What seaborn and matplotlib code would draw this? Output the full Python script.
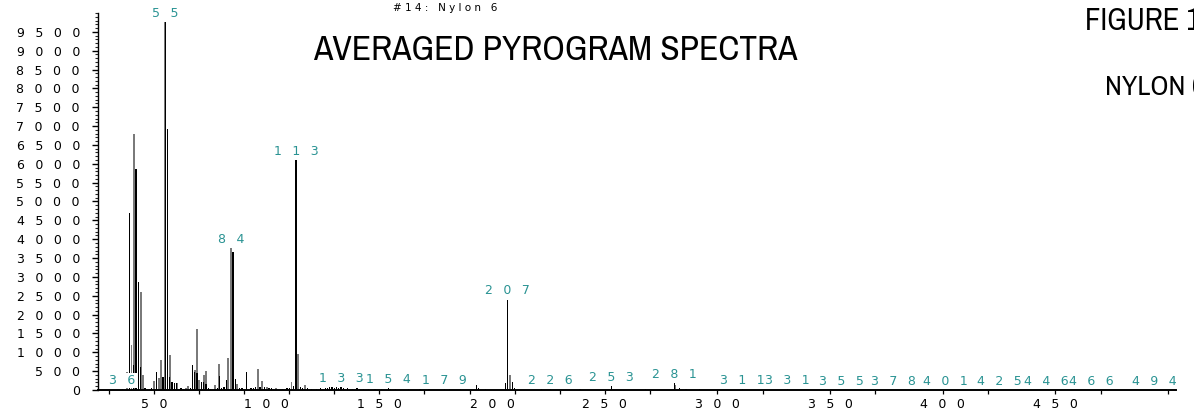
import numpy as np
import pandas as pd
import matplotlib
matplotlib.use("Agg")
import matplotlib.pyplot as plt
import seaborn as sns
from matplotlib import font_manager as fm
from matplotlib.ticker import MultipleLocator, FixedLocator

# ---------------- data ----------------
gray_mz = [38, 40, 41, 44, 45, 50, 52, 53, 54, 55, 57, 60, 64, 65, 68, 69, 70, 72, 73,
           77, 79, 83, 84, 87, 95, 96, 98, 100, 104, 111, 114, 117, 208, 281]
gray_int = [470, 1200, 6800, 2600, 390, 240, 320, 800, 350, 9750, 925, 190, 60, 100, 540,
            1630, 260, 395, 510, 140, 700, 860, 3760, 150, 60, 570, 240, 70, 40, 210, 960,
            130, 400, 120]

black_mz = [36, 39, 41, 42, 43, 44, 46, 48, 49, 51, 54, 55, 56, 57, 58, 59, 60, 62, 63, 66,
            67, 68, 69, 71, 72, 73, 74, 75, 78, 79, 80, 81, 82, 85, 86, 88, 89, 91, 93, 94,
            95, 97, 99, 101, 102, 107, 109, 110, 112, 113, 115, 116, 118, 120, 122, 124, 126,
            127, 128, 129, 130, 131, 132, 133, 134, 136, 138, 140, 141, 143, 145, 148, 151,
            154, 155, 157, 163, 168, 172, 179, 181, 186, 193, 194, 197, 206, 207, 209, 210,
            222, 226, 239, 253, 268, 281, 283, 286, 292, 311, 331, 355, 378, 401, 425, 446,
            466, 494]
black_int = [20, 4700, 670, 5860, 2870, 620, 40, 30, 60, 490, 350, 9750, 6930, 350, 220, 180,
             180, 40, 30, 60, 650, 470, 440, 200, 220, 160, 40, 30, 60, 360, 50, 80, 270, 3670,
             290, 60, 40, 470, 40, 50, 80, 70, 90, 50, 40, 30, 40, 60, 110, 6090, 90, 40, 40,
             25, 30, 40, 50, 60, 70, 80, 60, 90, 60, 80, 50, 40, 30, 40, 30, 25, 20, 20, 20,
             40, 30, 20, 15, 20, 15, 30, 20, 15, 130, 50, 30, 180, 2400, 200, 60, 20, 30, 20,
             110, 30, 185, 40, 30, 20, 20, 15, 10, 10, 10, 10, 10, 10, 10]

# peak labels (drawing order: later ones sit on top)
label_mz = [36, 55, 84, 113, 133, 154, 179, 207, 226, 253, 281, 331, 311, 355, 378, 401,
            446, 425, 466, 494]

y_ticks = list(range(0, 10000, 500))
x_label_pos = [50, 100, 150, 200, 250, 300, 350, 400, 450]
x_tick_labels = ["50", "100", "150", "200", "250", "300", "350", "400", "450"]

title_small = "#14: Nylon 6"
title_main = "AVERAGED PYROGRAM SPECTRA"
figure_text = "FIGURE 1"
sample_text = "NYLON 6"

# tick-mark positions along the m/z axis as printed
x_mark_pos = [30, 50, 70, 90, 110, 130, 150, 170, 190, 210, 230, 250, 270, 300, 320, 350,
              370, 400, 420, 450, 470, 500]

# ---------------- helpers ----------------
SEP = "\u2007\u2009"


def spaced(s, sep=SEP):
    return sep.join(list(s))


# condensed face for the headings, if one is installed
names = sorted({f.name for f in fm.fontManager.ttflist})
narrow_name = None
for key in ("liberation sans narrow", "narrow", "condensed"):
    for n in names:
        nl = n.lower()
        if key in nl and "mono" not in nl and "serif" not in nl.replace("sans serif", ""):
            narrow_name = n
            break
    if narrow_name:
        break

# ---------------- figure ----------------
sns.set_theme(style="ticks")
plt.rcParams["font.family"] = ["DejaVu Sans"]

W_PX, H_PX = 1194, 411
fig = plt.figure(figsize=(W_PX / 100, H_PX / 100), dpi=100)
fig.patch.set_facecolor("white")

PX_PER_MZ = 2.2535
PX_AT_0 = 41.4
ax_left, ax_right, ax_top, ax_bot = 98, 1176, 13, 390
ax = fig.add_axes([ax_left / W_PX, 1 - ax_bot / H_PX,
                   (ax_right - ax_left) / W_PX, (ax_bot - ax_top) / H_PX])
ax.set_facecolor("white")

df_gray = pd.DataFrame({"mz": gray_mz, "intensity": gray_int})
df_black = pd.DataFrame({"mz": black_mz, "intensity": black_int})

sns.barplot(data=df_gray, x="mz", y="intensity", native_scale=True, color="#7a7a7a",
            saturation=1, width=0.85, linewidth=0, errorbar=None, ax=ax)
sns.barplot(data=df_black, x="mz", y="intensity", native_scale=True, color="#000000",
            saturation=1, width=0.55, linewidth=0, errorbar=None, ax=ax)

ax.set_xlim((ax_left - PX_AT_0) / PX_PER_MZ, (ax_right - PX_AT_0) / PX_PER_MZ)
ax.set_ylim(0, 10000)
ax.set_xlabel("")
ax.set_ylabel("")

# ticks
ax.set_yticks(y_ticks, labels=[spaced(str(v)) for v in y_ticks])
ax.yaxis.set_minor_locator(MultipleLocator(100))
ax.set_xticks(x_label_pos, labels=[spaced(t) for t in x_tick_labels])
ax.xaxis.set_minor_locator(FixedLocator(x_mark_pos))
ax.xaxis.remove_overlapping_locs = False
ax.tick_params(axis="y", which="major", direction="out", length=4.5, width=1.0,
               pad=8.5, labelsize=9, colors="black")
ax.tick_params(axis="y", which="minor", direction="out", length=2.2, width=0.8)
ax.tick_params(axis="x", which="major", direction="out", length=0, width=0,
               pad=5.5, labelsize=9, labelcolor="black")
ax.tick_params(axis="x", which="minor", direction="out", length=3.2, width=0.9,
               color="black")

sns.despine(ax=ax, top=True, right=True)
ax.spines["left"].set_linewidth(1.0)
ax.spines["bottom"].set_linewidth(1.4)
ax.spines["left"].set_color("black")
ax.spines["bottom"].set_color("black")

# peak labels
heights = {}
for m, v in zip(gray_mz, gray_int):
    heights[m] = max(heights.get(m, 0), v)
for m, v in zip(black_mz, black_int):
    heights[m] = max(heights.get(m, 0), v)

teal = "#2a9393"
for i, m in enumerate(label_mz):
    ax.annotate(spaced(str(m)), xy=(m, heights.get(m, 0)), xytext=(0, 1.5),
                textcoords="offset points", ha="center", va="bottom", fontsize=9,
                color=teal, zorder=10 + i, annotation_clip=False,
                bbox=dict(boxstyle="square,pad=0.08", fc="white", ec="none"))


# titles
def fx(px):
    return px / W_PX


def fy(py):
    return 1 - py / H_PX


if narrow_name:
    head_family = [narrow_name, "DejaVu Sans"]
    s_main, s_fig, s_nyl = 25.5, 22, 20.5
else:
    head_family = ["Liberation Sans", "DejaVu Sans"]
    s_main, s_fig, s_nyl = 21.4, 19, 18

fig.text(fx(445), fy(8), spaced(title_small, " "), ha="center", va="center",
         fontsize=7.5, color="black")
fig.text(fx(313), fy(60), title_main, ha="left", va="baseline", fontsize=s_main,
         family=head_family, fontweight="light", color="black")
fig.text(fx(1085), fy(30), figure_text, ha="left", va="baseline", fontsize=s_fig,
         family=head_family, fontweight="light", color="black")
fig.text(fx(1105), fy(95), sample_text, ha="left", va="baseline", fontsize=s_nyl,
         family=head_family, fontweight="light", color="black")

fig.savefig("out.png", dpi=100, facecolor="white")
